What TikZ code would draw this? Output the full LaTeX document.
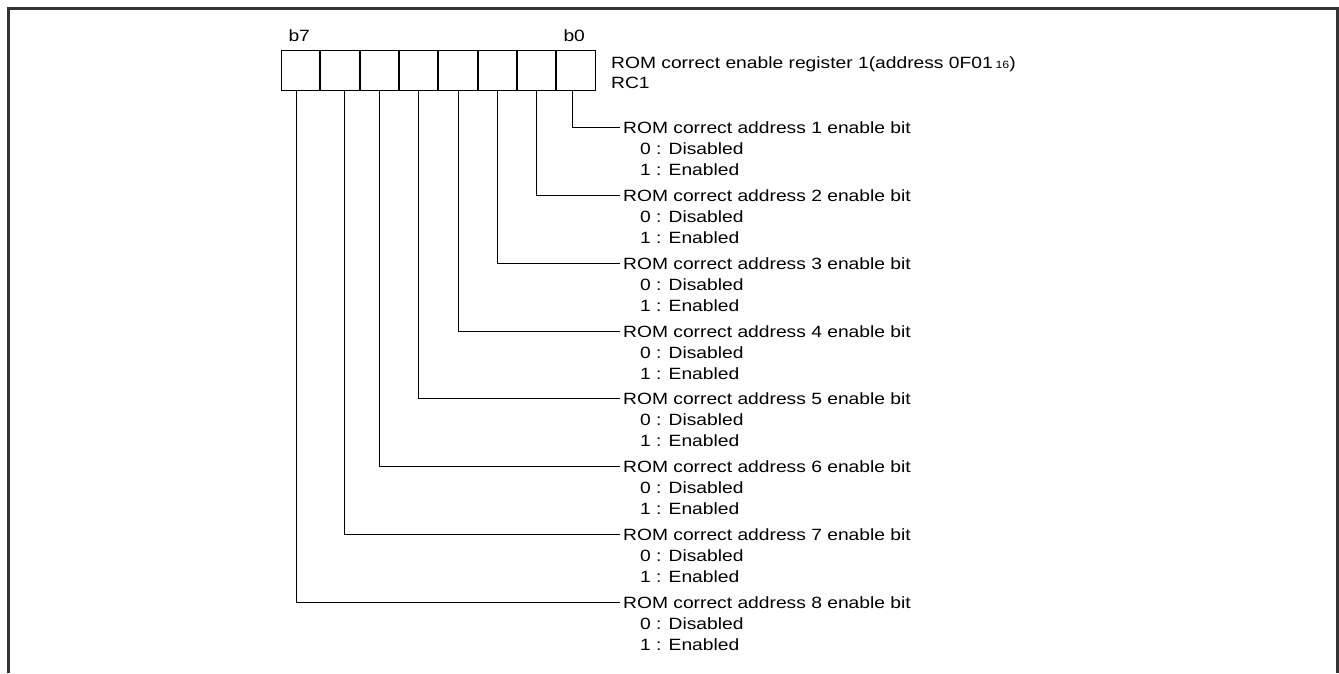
\documentclass[tikz,border=0pt]{standalone}
\usepackage{fontspec}
\setmainfont{Liberation Sans}[FakeStretch=1.18]
\begin{document}
\begin{tikzpicture}[x=1pt,y=-1pt,
  frame/.style={draw=black!80, line width=2.4pt},
  bitbox/.style={draw=black, line width=1pt, minimum width=39.34pt, minimum height=40pt, inner sep=0pt, outer sep=0pt},
  divider/.style={draw=black, line width=1.8pt},
  conn/.style={draw=black, line width=1pt},
  txt/.style={anchor=base west, inner sep=0pt, font=\fontsize{16.3}{21}\selectfont},
  title/.style={anchor=base west, inner xsep=3pt, inner ysep=0pt, font=\fontsize{16.3}{21}\selectfont}]
\useasboundingbox (0,0) rectangle (1339,673);
% outer frame (open at bottom)
\draw[frame] (8.5,673) -- (8.5,8.5) -- (1337.5,8.5) -- (1337.5,673);
% register boxes, bx0 = b0 (rightmost)
\foreach \i in {0,...,7} {
  \node[bitbox] (bx\i) at ({281+39.34*(7-\i+0.5)},70) {};
}
\foreach \i in {0,...,6} {
  \draw[divider] (bx\i.north west) -- (bx\i.south west);
}
% labels
\node[txt] (lb7) at (288.3,41) {b7};
\node[txt] (lb0) at (563.3,41) {b0};
\node[txt] (reg) at (611,68.3) {ROM correct enable register 1(address 0F01\,{\fontsize{10.5}{12}\selectfont 16})};
\node[txt] (rc1) at (611,88.3) {RC1};
% bit descriptions
\foreach \b/\off in {0/-3.7,1/0.1,2/0,3/0,4/0,5/-0.2,6/4,7/-4} {
  \pgfmathsetmacro\ry{127.7+67.8*\b}
  \pgfmathtruncatemacro\n{\b+1}
  \node[title] (t\b) at (620,\ry+5.9) {ROM correct address \n\ enable bit};
  \node[txt] (z\b) at (640,\ry+26.9) {0 : Disabled};
  \node[txt] (o\b) at (640,\ry+47.9) {1 : Enabled};
  \draw[conn] ([xshift=\off pt]bx\b.south) |- (t\b.west);
}
\end{tikzpicture}
\end{document}
